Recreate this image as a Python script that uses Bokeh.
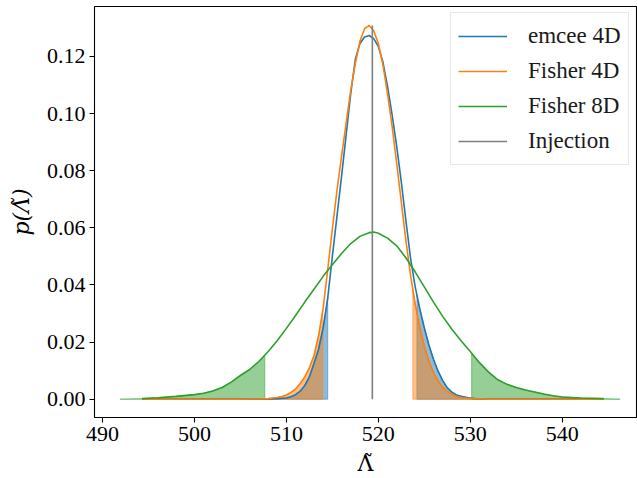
import numpy as np
from bokeh.plotting import figure
from bokeh.models import (Range1d, FixedTicker, NumeralTickFormatter,
                          Legend, LegendItem)
from bokeh.embed import file_html
from bokeh.resources import INLINE

# ---------------- data ----------------
lam_emcee = [494.3, 500, 505, 508, 509, 510, 510.5, 511, 511.5, 512, 512.5, 513,
             513.5, 514, 514.5, 515, 515.5, 516, 516.5, 517, 517.5, 518, 518.5,
             519, 519.5, 520, 520.5, 521, 521.5, 522, 522.5, 523, 523.5, 524,
             524.5, 525, 525.5, 526, 526.5, 527, 527.5, 528, 528.5, 529, 529.5,
             530, 531, 532, 535, 540, 544.5]
p_emcee = [0, 0, 0, 0.0001, 0.0002, 0.0004, 0.0009, 0.0016, 0.0028, 0.0048,
           0.0078, 0.0125, 0.0175, 0.0250, 0.0355, 0.0500, 0.0640, 0.0780,
           0.0925, 0.1070, 0.1190, 0.1245, 0.1268, 0.1273, 0.1262, 0.1235,
           0.1180, 0.1095, 0.0995, 0.0885, 0.0760, 0.0625, 0.0495, 0.0395,
           0.0318, 0.0250, 0.0190, 0.0140, 0.0098, 0.0065, 0.0040, 0.0025,
           0.0015, 0.0010, 0.0007, 0.0004, 0.0001, 0, 0, 0, 0]

lam_fisher4 = [494.3, 500, 505, 507, 508, 508.5, 509, 509.5, 510, 510.5, 511,
               511.5, 512, 512.5, 513, 513.5, 514, 514.5, 515, 515.5, 516, 516.5,
               517, 517.5, 518, 518.5, 519, 519.5, 520, 520.5, 521, 521.5, 522,
               522.5, 523, 523.5, 524, 524.5, 525, 525.5, 526, 526.5, 527, 527.5,
               528, 528.5, 529, 530, 532, 535, 540, 544.5]
p_fisher4 = [0, 0, 0, 0.0001, 0.0002, 0.0004, 0.0006, 0.0009, 0.0015, 0.0024,
             0.0036, 0.0055, 0.0078, 0.0110, 0.0152, 0.0222, 0.0318, 0.0455,
             0.0595, 0.0730, 0.0850, 0.0966, 0.1081, 0.1175, 0.1253, 0.1297,
             0.1308, 0.1290, 0.1245, 0.1170, 0.1070, 0.0955, 0.0825, 0.0690,
             0.0555, 0.0435, 0.0335, 0.0252, 0.0186, 0.0133, 0.0093, 0.0063,
             0.0042, 0.0027, 0.0017, 0.0010, 0.0006, 0.0002, 0, 0, 0, 0]

lam_fisher8 = [494.3, 496, 498, 500, 501, 502, 503, 504, 505, 506, 507, 508, 509,
               510, 511, 512, 513, 514, 515, 516, 517, 518, 519, 519.5, 520, 521,
               522, 523, 524, 525, 526, 527, 528, 529, 530, 531, 532, 533, 534,
               535, 536, 537, 538, 539, 540, 542, 544.5]
p_fisher8 = [0.0002, 0.0005, 0.0010, 0.0016, 0.0021, 0.0029, 0.0041, 0.0060,
             0.0083, 0.0104, 0.0132, 0.0166, 0.0205, 0.0248, 0.0293, 0.0340,
             0.0385, 0.0430, 0.0471, 0.0510, 0.0545, 0.0570, 0.0583, 0.0585,
             0.0581, 0.0564, 0.0537, 0.0495, 0.0446, 0.0393, 0.0340, 0.0290,
             0.0245, 0.0205, 0.0167, 0.0128, 0.0095, 0.0068, 0.0052, 0.0041,
             0.0032, 0.0025, 0.0018, 0.0012, 0.0008, 0.0004, 0.0002]

injection = 519.35

# credible-interval tail boundaries (shaded regions)
emcee_lo, emcee_hi = 514.5, 524.2
fisher4_lo, fisher4_hi = 513.96, 523.75
fisher8_lo, fisher8_hi = 507.65, 530.15
fill_extent_4d = (494.3, 544.5)
fill_extent_8d = (491.9, 546.3)

x_ticks = [490, 500, 510, 520, 530, 540]
y_ticks = [0.00, 0.02, 0.04, 0.06, 0.08, 0.10, 0.12]

labels = ["emcee 4D", "Fisher 4D", "Fisher 8D", "Injection"]
colors = ["#1f77b4", "#ff7f0e", "#2ca02c", "#7f7f7f"]

FONT = "Liberation Serif"
LABEL_FONT = "DejaVu Serif"


def tail_polys(x, y, lo, hi, extent):
    x = np.asarray(x, float)
    y = np.asarray(y, float)
    polys_x, polys_y = [], []
    for a, b in ((extent[0], lo), (hi, extent[1])):
        inner = x[(x > a) & (x < b)]
        xs = np.concatenate([[a], inner, [b]])
        ys = np.interp(xs, x, y, left=0.0, right=0.0)
        polys_x.append(list(xs) + [b, a])
        polys_y.append(list(ys) + [0.0, 0.0])
    return polys_x, polys_y


p = figure(width=637, height=478, output_backend="svg", toolbar_location=None,
           x_range=Range1d(489.13, 548.08), y_range=Range1d(-0.0064, 0.13746),
           min_border_left=94, min_border_right=1, min_border_top=6,
           min_border_bottom=60)
p.grid.visible = False
p.outline_line_color = "black"
p.outline_line_width = 1.1
p.background_fill_color = "white"
p.border_fill_color = "white"

# shaded tails
for (x, y, lo, hi, ext, c) in [
        (lam_emcee, p_emcee, emcee_lo, emcee_hi, fill_extent_4d, colors[0]),
        (lam_fisher4, p_fisher4, fisher4_lo, fisher4_hi, fill_extent_4d, colors[1]),
        (lam_fisher8, p_fisher8, fisher8_lo, fisher8_hi, fill_extent_8d, colors[2])]:
    px, py = tail_polys(x, y, lo, hi, ext)
    p.patches(px, py, fill_color=c, fill_alpha=0.5, line_color=c,
              line_alpha=0.5, line_width=1)

r1 = p.line(lam_emcee, p_emcee, line_color=colors[0], line_width=1.6)
r2 = p.line(lam_fisher4, p_fisher4, line_color=colors[1], line_width=1.6)
r3 = p.line(lam_fisher8, p_fisher8, line_color=colors[2], line_width=1.6)
r4 = p.segment(x0=[injection], y0=[0], x1=[injection], y1=[max(p_fisher4)],
               line_color=colors[3], line_width=1.6)

# axes
for ax in (p.xaxis[0], p.yaxis[0]):
    ax.major_label_text_font = FONT
    ax.major_label_text_font_size = "22px"
    ax.major_label_text_color = "black"
    ax.axis_line_color = None
    ax.major_tick_line_color = "black"
    ax.major_tick_line_width = 1.1
    ax.major_tick_in = 0
    ax.major_tick_out = 5
    ax.minor_tick_line_color = None
    ax.major_label_standoff = 4
    ax.axis_label_text_font = LABEL_FONT
    ax.axis_label_text_font_size = "22px"
    ax.axis_label_text_color = "black"

p.xaxis.ticker = FixedTicker(ticks=x_ticks)
p.yaxis.ticker = FixedTicker(ticks=y_ticks)
p.yaxis.formatter = NumeralTickFormatter(format="0.00")
p.xaxis.formatter = NumeralTickFormatter(format="0")

p.yaxis.axis_label = "p(Λ̃)"
p.yaxis.axis_label_text_font_style = "italic"
p.yaxis.axis_label_standoff = 10

p.xaxis.axis_label = "Λ̃"
p.xaxis.axis_label_text_font_style = "normal"
p.xaxis.axis_label_standoff = 7

legend = Legend(items=[LegendItem(label=labels[0], renderers=[r1]),
                       LegendItem(label=labels[1], renderers=[r2]),
                       LegendItem(label=labels[2], renderers=[r3]),
                       LegendItem(label=labels[3], renderers=[r4])],
                location=(356, 252))
legend.label_text_font = FONT
legend.label_text_font_size = "23px"
legend.label_text_color = "#1a1a1a"
legend.glyph_width = 49
legend.glyph_height = 32
legend.label_height = 32
legend.label_standoff = 21
legend.spacing = 3
legend.padding = 7
legend.margin = 0
legend.border_line_color = "#d0d0d0"
legend.border_line_width = 1
legend.background_fill_alpha = 0.8
p.add_layout(legend)

open("out.html", "w").write(file_html(p, INLINE))
